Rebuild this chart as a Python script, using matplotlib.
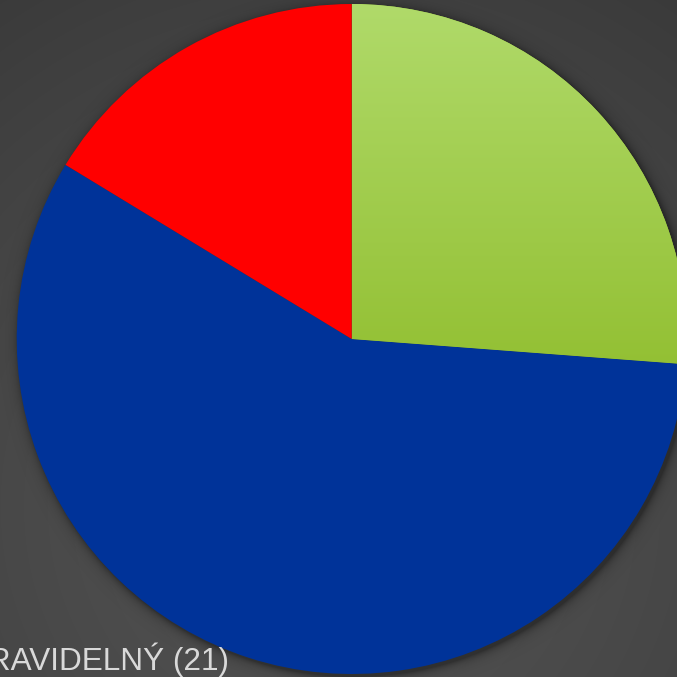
import numpy as np
import matplotlib
matplotlib.use("Agg")
import matplotlib.pyplot as plt

# slice shares (green, blue, red), clockwise from 12 o'clock
labels = ["", "NEPRAVIDELNÝ (21)", ""]
shares = [26.2, 57.5, 16.3]
colors = ["#9ccc3c", "#003399", "#ff0000"]

W = 677
fig = plt.figure(figsize=(6.77, 6.77), dpi=100)
ax = fig.add_axes([0, 0, 1, 1])

# dark radial background
yy, xx = np.mgrid[0:W, 0:W]
d = np.hypot(xx - 330, yy - 170) / 620.0
g = 0x53 - (0x53 - 0x3a) * np.clip(d, 0, 1) ** 1.3
bg = np.dstack([g, g, g]) / 255.0
ax.imshow(bg, extent=(0, W, 0, W), origin="lower", zorder=0)

cx, cy, r = 351.7, 338.0, 335.0

# soft shadow under the pie
dist = np.hypot(xx - (cx + 2), yy - (cy - 3)) - r
sh = 0.38 * np.exp(-np.clip(dist, 0, None) / 4.5)
shadow = np.zeros((W, W, 4))
shadow[..., 3] = sh
ax.imshow(shadow, extent=(0, W, 0, W), origin="lower", zorder=1)

wedges, _ = ax.pie(shares, colors=colors, startangle=90, counterclock=False,
                   center=(cx, cy), radius=r, frame=True,
                   wedgeprops=dict(linewidth=0))
for w in wedges:
    w.set_zorder(2)
ax.set_xlim(0, W)
ax.set_ylim(0, W)
ax.set_aspect("equal")
ax.axis("off")

# vertical gradient on the green slice
gy = np.linspace(0, 1, 256).reshape(-1, 1)
top = np.array([0xb0, 0xda, 0x6a]) / 255.0
bot = np.array([0x93, 0xc0, 0x33]) / 255.0
grad = (bot + (top - bot) * gy)[:, None, :].repeat(2, axis=1)
im = ax.imshow(grad, extent=(cx, W, cy - 30, cy + r), origin="lower",
               aspect="auto", zorder=3)
im.set_clip_path(wedges[0])

fig.text(229 / W, 1 - 670 / W, labels[1], ha="right", va="baseline",
         fontsize=22.7, color="#d9d9d9", family="Liberation Sans")

fig.savefig("out.png", dpi=100, facecolor="#444444")
